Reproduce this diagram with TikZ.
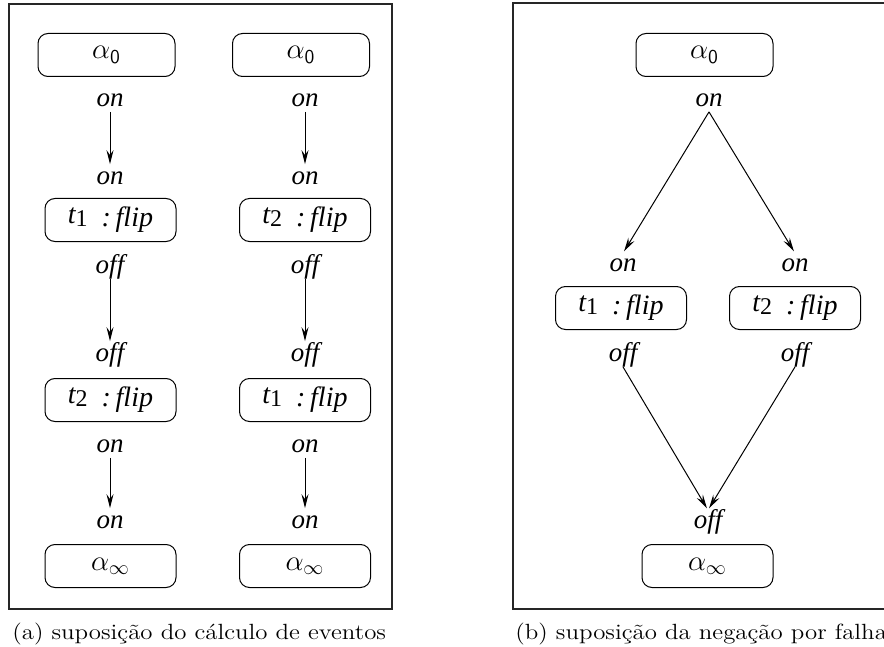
\documentclass[tikz,border=0pt]{standalone}
\usepackage{fontspec}
\newfontfamily\tim{Liberation Serif}
\usetikzlibrary{arrows.meta}

\newcommand\flipT[1]{{\tim\itshape\raisebox{1.5pt}{t}{\upshape\fontsize{12}{12}\selectfont #1}\hspace{7pt}:\,flip}}
\newcommand\captxt[1]{\scalebox{1.13}[1]{\fontsize{11}{13}\selectfont #1}}

\begin{document}
\begin{tikzpicture}[x=0.5pt, y=-0.5pt,
    frame/.style={draw=black!85, line width=0.6pt},
    state/.style={draw, rounded corners=5pt, line width=0.5pt, minimum width=65.5pt, minimum height=21.5pt, inner sep=0pt, font=\fontsize{14}{16}\selectfont},
    lbl/.style={font=\fontsize{13.5}{15}\selectfont\tim\itshape, inner sep=1pt, text height=8pt, text depth=1.5pt},
    arr/.style={-{Stealth[length=7pt, width=3.5pt, inset=2.5pt]}, line width=0.5pt, shorten >=1pt},
    captext/.style={inner sep=0pt, anchor=base west}]
    \clip (0,0) rectangle (884,647);

    % frames
    \draw[frame] (9,4) rectangle (392,609);
    \draw[frame] (513,3) rectangle (900,609);

    % (a) first column
    \node[state, minimum width=68.5pt] (a0L) at (106.5,55) {$\alpha_{\mathsf{0}}$};
    \node[lbl] (onL1) at (110,100) {on};
    \node[lbl] (onL2) at (110,178) {on};
    \node[state] (t1L) at (110.5,220) {\flipT{1}};
    \node[lbl] (offL1) at (110,267) {off};
    \node[lbl] (offL2) at (110,355) {off};
    \node[state] (t2L) at (110.5,400) {\flipT{2}};
    \node[lbl] (onL3) at (110,446) {on};
    \node[lbl] (onL4) at (110,522) {on};
    \node[state] (ainfL) at (110.5,566) {$\alpha_\infty$};
    \draw[arr] (onL1) -- (onL2);
    \draw[arr] (offL1) -- (offL2);
    \draw[arr] (onL3) -- (onL4);

    % (a) second column
    \node[state, minimum width=68.5pt] (a0R) at (301,55) {$\alpha_{\mathsf{0}}$};
    \node[lbl] (onR1) at (305,100) {on};
    \node[lbl] (onR2) at (305,178) {on};
    \node[state] (t2R) at (305,220) {\flipT{2}};
    \node[lbl] (offR1) at (305,267) {off};
    \node[lbl] (offR2) at (305,355) {off};
    \node[state] (t1R) at (305,400) {\flipT{1}};
    \node[lbl] (onR3) at (305,446) {on};
    \node[lbl] (onR4) at (305,522) {on};
    \node[state] (ainfR) at (305,566) {$\alpha_\infty$};
    \draw[arr] (onR1) -- (onR2);
    \draw[arr] (offR1) -- (offR2);
    \draw[arr] (onR3) -- (onR4);

    % (b) negation as failure
    \node[state, minimum width=68.5pt] (a0N) at (704.5,55) {$\alpha_{\mathsf{0}}$};
    \node[lbl] (onN) at (709,100) {on};
    \node[lbl] (onN1) at (623,265) {on};
    \node[lbl] (onN2) at (795,265) {on};
    \node[state] (t1N) at (621,308) {\flipT{1}};
    \node[state] (t2N) at (795,308) {\flipT{2}};
    \node[lbl] (offN1) at (623,355) {off};
    \node[lbl] (offN2) at (795,355) {off};
    \node[lbl] (offN) at (708,522) {off};
    \node[state] (ainfN) at (707.5,566) {$\alpha_\infty$};
    \draw[arr] (onN.south) -- (onN1.north);
    \draw[arr] (onN.south) -- (onN2.north);
    \draw[arr] (offN1.south) -- (offN.north);
    \draw[arr] (offN2.south) -- (offN.north);

    % captions
    \node[captext] (capA) at (12,639) {\captxt{(a) suposição do cálculo de eventos}};
    \node[captext] (capB) at (515,639) {\captxt{(b) suposição da negação por falha}};
\end{tikzpicture}
\end{document}
